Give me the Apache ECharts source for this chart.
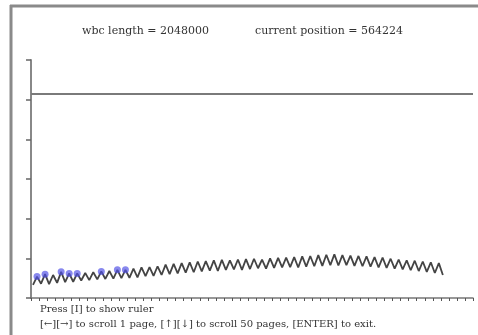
<!DOCTYPE html>
<html>
<head>
<meta charset="utf-8">
<script src="https://cdn.jsdelivr.net/npm/echarts@6/dist/echarts.min.js"></script>
<style>
  html, body { margin: 0; padding: 0; background: #fff; }
  #chart { width: 478px; height: 335px; }
</style>
</head>
<body>
<div id="chart"></div>
<script>
// Header readouts
const wbcLength = 2048000;
const currentPosition = 564224;

// Help lines under the plot
const helpLines = [
  'Press [I] to show ruler',
  '[\u2190][\u2192] to scroll 1 page, [\u2191][\u2193] to scroll 50 pages, [ENTER] to exit.'
];

// Waveform: alternating trough / peak samples, half a division apart
const waveStart = 0.25;
const waveStep = 0.5;
const waveValues = [
  0.33, 0.54, 0.36, 0.60, 0.35, 0.58, 0.38, 0.66, 0.40, 0.62,
  0.41, 0.62, 0.44, 0.63, 0.45, 0.65, 0.47, 0.67, 0.48, 0.68,
  0.49, 0.71, 0.50, 0.71, 0.51, 0.74, 0.52, 0.77, 0.55, 0.78,
  0.56, 0.80, 0.58, 0.84, 0.60, 0.86, 0.62, 0.88, 0.64, 0.90,
  0.65, 0.92, 0.67, 0.93, 0.69, 0.95, 0.68, 0.96, 0.71, 0.95,
  0.72, 0.97, 0.71, 0.98, 0.73, 0.99, 0.75, 0.97, 0.74, 1.00,
  0.76, 1.01, 0.77, 1.02, 0.78, 1.03, 0.77, 1.05, 0.79, 1.06,
  0.80, 1.08, 0.81, 1.09, 0.83, 1.10, 0.82, 1.08, 0.83, 1.07,
  0.81, 1.06, 0.80, 1.05, 0.79, 1.03, 0.77, 1.02, 0.76, 0.99,
  0.74, 0.97, 0.72, 0.95, 0.70, 0.94, 0.68, 0.92, 0.66, 0.90,
  0.63, 0.88, 0.58
];

// Marked peaks (sample indices into waveValues)
const markedPeaks = [1, 3, 7, 9, 11, 17, 21, 23];

// Reference level drawn across the plot
const referenceLevel = 5.14;

// Axis extents
const xMax = 55;
const yMax = 6;

const wavePoints = waveValues.map((v, i) => [waveStart + i * waveStep, v]);
const peakPoints = markedPeaks.map(i => wavePoints[i]);

const chart = echarts.init(document.getElementById('chart'), null, { renderer: 'canvas' });

const serif = '"DejaVu Serif", "Liberation Serif", serif';

chart.setOption({
  animation: false,
  backgroundColor: '#ffffff',
  grid: { left: 31, right: 5, top: 60, bottom: 37 },
  xAxis: {
    type: 'value',
    min: 0,
    max: xMax,
    interval: 1,
    axisLine: { show: true, lineStyle: { color: '#777', width: 1.5 } },
    axisTick: { show: true, inside: false, length: 3, lineStyle: { color: '#555', width: 1 } },
    axisLabel: { show: false },
    splitLine: { show: false }
  },
  yAxis: {
    type: 'value',
    min: 0,
    max: yMax,
    interval: 1,
    axisLine: { show: true, lineStyle: { color: '#888', width: 2 } },
    axisTick: { show: true, inside: false, length: 5, lineStyle: { color: '#666', width: 1.5 } },
    axisLabel: { show: false },
    splitLine: { show: false }
  },
  series: [
    {
      type: 'line',
      data: [[0, referenceLevel], [xMax, referenceLevel]],
      symbol: 'none',
      lineStyle: { color: '#7a7a7a', width: 2 },
      silent: true,
      z: 2
    },
    {
      type: 'line',
      data: wavePoints,
      symbol: 'none',
      lineStyle: { color: '#444', width: 1.8 },
      silent: true,
      z: 3
    },
    {
      type: 'scatter',
      data: peakPoints,
      symbolSize: 7,
      itemStyle: { color: 'rgba(80, 80, 230, 0.85)' },
      silent: true,
      z: 4
    }
  ],
  graphic: [
    // window frame
    { type: 'line', shape: { x1: 10, y1: 6, x2: 478, y2: 6 }, style: { stroke: '#8a8a8a', lineWidth: 3 } },
    { type: 'line', shape: { x1: 11, y1: 5, x2: 11, y2: 335 }, style: { stroke: '#8a8a8a', lineWidth: 3 } },
    // header
    { type: 'text', left: 82, top: 26, style: { text: 'wbc length = ' + wbcLength, font: '11px ' + serif, fill: '#333' } },
    { type: 'text', left: 255, top: 26, style: { text: 'current position = ' + currentPosition, font: '11px ' + serif, fill: '#333' } },
    // help text
    { type: 'text', left: 40, top: 304, style: { text: helpLines[0], font: '10px ' + serif, fill: '#333' } },
    { type: 'text', left: 40, top: 319, style: { text: helpLines[1], font: '10px ' + serif, fill: '#333' } }
  ]
});
</script>
</body>
</html>
